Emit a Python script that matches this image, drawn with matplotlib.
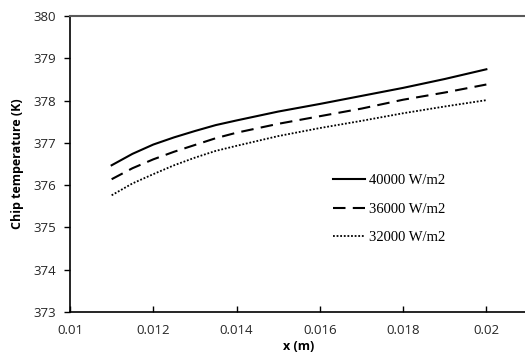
import matplotlib
matplotlib.use("Agg")
import matplotlib.pyplot as plt

# position along the chip (m)
x = [0.011, 0.0115, 0.012, 0.0125, 0.013, 0.0135, 0.014, 0.015, 0.016, 0.017, 0.018, 0.019, 0.020]

# chip temperature (K) for each heat flux
t_40000 = [376.47, 376.74, 376.96, 377.13, 377.28, 377.42, 377.53, 377.74, 377.92, 378.11, 378.30, 378.51, 378.74]
t_36000 = [376.14, 376.40, 376.61, 376.79, 376.95, 377.11, 377.24, 377.45, 377.63, 377.81, 378.02, 378.19, 378.38]
t_32000 = [375.76, 376.04, 376.26, 376.47, 376.65, 376.81, 376.93, 377.16, 377.35, 377.52, 377.70, 377.86, 378.01]

labels = ["40000 W/m2", "36000 W/m2", "32000 W/m2"]

fig = plt.figure(figsize=(5.25, 3.58), dpi=100)
ax = fig.add_axes([70 / 525, 46 / 358, 458 / 525, 296 / 358])

ax.plot(x, t_40000, color="black", lw=1.5, label=labels[0])
ax.plot(x, t_36000, color="black", lw=1.5, ls=(0, (6, 3.5)), label=labels[1])
ax.plot(x, t_32000, color="black", lw=1.3, ls=(0, (1, 1)), label=labels[2])

ax.set_xlim(0.01, 0.021)
ax.set_ylim(373, 380)
ax.set_xticks([0.01, 0.012, 0.014, 0.016, 0.018, 0.02])
ax.set_xticklabels(["0.01", "0.012", "0.014", "0.016", "0.018", "0.02"])
ax.set_yticks(range(373, 381))

tick_font = "Open Sans"
for lab in ax.get_xticklabels() + ax.get_yticklabels():
    lab.set_fontfamily(tick_font)
    lab.set_fontsize(9.5)
    lab.set_color("#262626")

ax.tick_params(axis="x", direction="in", length=4, width=1, pad=9)
ax.tick_params(axis="y", direction="out", length=4, width=1, pad=6)

ax.spines["right"].set_visible(False)
ax.spines["top"].set_color("#595959")
ax.spines["top"].set_linewidth(1.5)
ax.spines["left"].set_linewidth(1.2)
ax.spines["bottom"].set_linewidth(1.2)

ax.set_xlabel("x (m)", fontfamily=tick_font, fontweight="bold", fontsize=9, labelpad=2)
ax.set_ylabel("Chip temperature (K)", fontfamily=tick_font, fontweight="bold", fontsize=9, labelpad=7)

ax.legend(loc="upper left", bbox_to_anchor=(0.545, 0.51), frameon=False,
          prop={"family": "Liberation Serif", "size": 10.5},
          handlelength=2.2, handletextpad=0.3, labelspacing=1.05)

fig.savefig("out.png", dpi=100)
